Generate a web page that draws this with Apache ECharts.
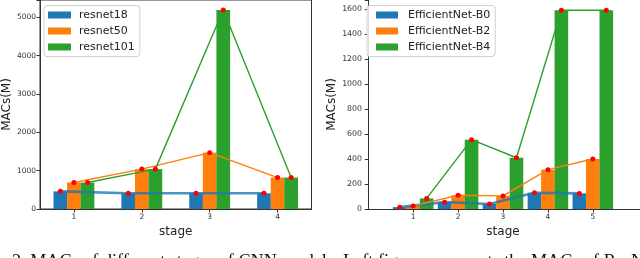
<!DOCTYPE html>
<html>
<head>
<meta charset="utf-8">
<script src="https://cdn.jsdelivr.net/npm/echarts@6/dist/echarts.min.js"></script>
<style>
html,body{margin:0;padding:0;background:#fff;}
#c{width:640px;height:258px;}
</style>
</head>
<body>
<div id="c"></div>
<script>
// ---- data ----
const leftStages = [1, 2, 3, 4];
const resnet18 = [460, 410, 410, 410];
const resnet50 = [690, 1040, 1470, 820];
const resnet101 = [690, 1040, 5190, 820];
const leftNames = ['resnet18', 'resnet50', 'resnet101'];
const leftYTicks = [0, 1000, 2000, 3000, 4000, 5000];

const rightStages = [1, 2, 3, 4, 5];
const effB0 = [15, 55, 40, 130, 125];
const effB2 = [25, 110, 105, 315, 400];
const effB4 = [85, 555, 410, 1590, 1590];
const rightNames = ['EfficientNet-B0', 'EfficientNet-B2', 'EfficientNet-B4'];
const rightYTicks = [0, 200, 400, 600, 800, 1000, 1200, 1400, 1600];

const caption = '2. MACs of different stages of CNN models. Left figure represents the MACs of ResNet';

// ---- styles ----
const colors = ['#1f77b4', '#ff7f0e', '#2ca02c'];
const lineWidths = [2.6, 1.4, 1.4];
const lineOpac = [0.8, 1, 1];
const FONT = 'DejaVu Sans';

function pts(stages, vals, off) { return stages.map((s, i) => [s + off, vals[i]]); }

function makeSeries(stages, lists, names, offsets, axisIdx, bw) {
  const out = [];
  lists.forEach((vals, k) => {
    out.push({
      type: 'bar', name: names[k], xAxisIndex: axisIdx, yAxisIndex: axisIdx,
      data: pts(stages, vals, offsets[k]), barWidth: bw, barGap: '-100%',
      itemStyle: { color: colors[k] }, z: 2, silent: true
    });
  });
  lists.forEach((vals, k) => {
    out.push({
      type: 'line', name: names[k] + '_line', xAxisIndex: axisIdx, yAxisIndex: axisIdx,
      data: pts(stages, vals, offsets[k]), symbol: 'circle', symbolSize: 5,
      showSymbol: true, animation: false,
      lineStyle: { color: colors[k], width: lineWidths[k], opacity: lineOpac[k] },
      itemStyle: { color: '#ff0000', borderWidth: 0 }, z: 5 + k, silent: true
    });
  });
  return out;
}

function yAxis(idx, max, ticks, fs) {
  return {
    type: 'value', gridIndex: idx, min: 0, max: max, interval: ticks[1] - ticks[0],
    name: 'MACs(M)', nameLocation: 'middle', nameGap: 25, nameRotate: 90,
    nameTextStyle: { fontFamily: FONT, fontSize: 12, color: '#222' },
    axisLine: { show: true, lineStyle: { color: '#333', width: 1 } },
    axisTick: { show: true, length: 3.5, lineStyle: { color: '#333' } },
    axisLabel: { fontFamily: FONT, fontSize: fs, color: '#333', margin: 4,
      formatter: v => (ticks.indexOf(v) >= 0 ? String(v) : '') },
    splitLine: { show: false }
  };
}
function xAxis(idx, min, max, stages) {
  return {
    type: 'value', gridIndex: idx, min: min, max: max,
    name: 'stage', nameLocation: 'middle', nameGap: 14,
    nameTextStyle: { fontFamily: FONT, fontSize: 12, color: '#222' },
    axisLine: { show: true, onZero: false, lineStyle: { color: '#333', width: 1 } },
    axisTick: { show: true, length: 3.5, lineStyle: { color: '#333' }, customValues: stages },
    axisLabel: { fontFamily: FONT, fontSize: 7.5, color: '#333', margin: 4, customValues: stages },
    splitLine: { show: false }
  };
}

const chart = echarts.init(document.getElementById('c'), null, { renderer: 'canvas' });
chart.setOption({
  animation: false,
  backgroundColor: '#fff',
  grid: [
    { left: 38.5, top: -1, width: 273, height: 210, show: true, borderColor: '#333', borderWidth: 1, containLabel: false },
    { left: 366, top: 0, width: 276, height: 209, show: false, containLabel: false }
  ],
  xAxis: [xAxis(0, 0.5, 4.5, leftStages), xAxis(1, -0.05, 6.05, rightStages)],
  yAxis: [yAxis(0, 5450, leftYTicks, 7.5), yAxis(1, 1672, rightYTicks, 7.8)],
  legend: [
    { data: leftNames, orient: 'vertical', left: 44, top: 5.5,
      itemWidth: 23, itemHeight: 7, itemGap: 3, icon: 'rect',
      padding: [3, 5, 3, 4], backgroundColor: 'rgba(255,255,255,0.85)',
      borderColor: '#d0d0d0', borderWidth: 1, borderRadius: 3,
      textStyle: { fontFamily: FONT, fontSize: 11, color: '#222', padding: [0, 0, 0, 3], lineHeight: 13 },
      selectedMode: false },
    { data: rightNames, orient: 'vertical', left: 367, top: 5.5,
      itemWidth: 22, itemHeight: 7, itemGap: 3, icon: 'rect',
      padding: [3, 5, 3, 9], backgroundColor: 'rgba(255,255,255,0.85)',
      borderColor: '#d0d0d0', borderWidth: 1, borderRadius: 3,
      textStyle: { fontFamily: FONT, fontSize: 11, color: '#222', padding: [0, 0, 0, 5], lineHeight: 13 },
      selectedMode: false }
  ],
  graphic: [
    { type: 'text', left: 12, top: 253.5, silent: true,
      style: { text: caption, font: '18.2px "Liberation Serif"', fill: '#111' } }
  ],
  series: [
    ...makeSeries(leftStages, [resnet18, resnet50, resnet101], leftNames, [-0.2, 0, 0.2], 0, 13.7),
    ...makeSeries(rightStages, [effB0, effB2, effB4], rightNames, [-0.3, 0, 0.3], 1, 13.6)
  ]
});
</script>
</body>
</html>
